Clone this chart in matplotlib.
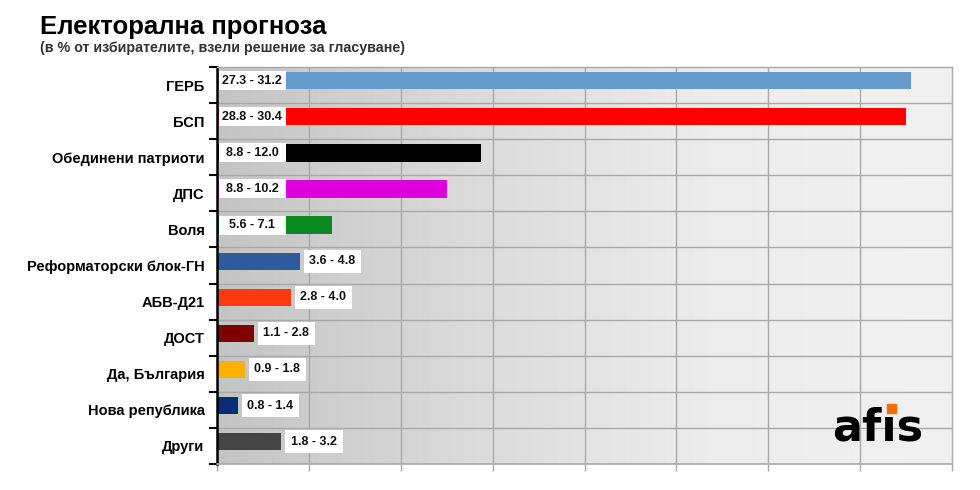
import matplotlib
matplotlib.use("Agg")
import matplotlib.pyplot as plt
import numpy as np
from matplotlib.patches import Rectangle
from matplotlib.colors import LinearSegmentedColormap

plt.rcParams['font.family'] = ['Liberation Sans', 'DejaVu Sans']

parties = ["ГЕРБ", "БСП", "Обединени патриоти", "ДПС", "Воля",
           "Реформаторски блок-ГН", "АБВ-Д21", "ДОСТ", "Да, България",
           "Нова република", "Други"]
bar_values = [30.2, 30.0, 11.5, 10.0, 5.0, 3.6, 3.2, 1.6, 1.2, 0.9, 2.8]
range_labels = ["27.3 - 31.2", "28.8 - 30.4", "8.8 - 12.0", "8.8 - 10.2",
                "5.6 - 7.1", "3.6 - 4.8", "2.8 - 4.0", "1.1 - 2.8",
                "0.9 - 1.8", "0.8 - 1.4", "1.8 - 3.2"]
label_inside = [True, True, True, True, True, False, False, False, False, False, False]
colors = ["#6699cc", "#ff0000", "#000000", "#dd00dd", "#0a8a1e", "#2e5aa0",
          "#ff3a10", "#800000", "#ffb000", "#0a2a7a", "#444444"]
x_max = 32
x_step = 4

fig = plt.figure(figsize=(9.8, 4.9), dpi=100)
ax = fig.add_axes([217/980, 1-464/490, (952-217)/980, (464-67)/490])

n = len(parties)
ax.set_xlim(0, x_max)
ax.set_ylim(n - 0.5, -0.5)
px_per_unit = (952 - 217) / x_max
px_per_cat = (464 - 67) / n

# gradient background
grad = np.linspace(0, 1, 256).reshape(1, -1)
cmap = LinearSegmentedColormap.from_list("bg", ["#c4c4c4", "#dadada", "#ececec", "#f1f1f1"])
ax.imshow(grad, extent=[0, x_max, n - 0.5, -0.5], aspect='auto', cmap=cmap, zorder=0)

# grid
for xv in np.arange(x_step, x_max, x_step):
    ax.axvline(xv, color="#a8a8a8", lw=1, zorder=1)
for yv in np.arange(0.5, n - 0.5, 1):
    ax.axhline(yv, color="#a8a8a8", lw=1, zorder=1)

ypos = np.arange(n) - 0.12
ax.barh(ypos, bar_values, height=0.48, color=colors, zorder=3)

box_w = 67 / px_per_unit
box_h = 19 / px_per_cat
for i in range(n):
    if label_inside[i]:
        x0 = 1.5 / px_per_unit
        ax.add_patch(Rectangle((x0, ypos[i] - box_h / 2), box_w, box_h,
                               fc="white", ec="none", zorder=4))
        ax.text(x0 + box_w / 2, ypos[i], range_labels[i], ha="center", va="center",
                fontsize=9, fontweight="bold", color="#111111", zorder=5)
    else:
        ax.annotate(range_labels[i], xy=(bar_values[i], ypos[i]), xytext=(7, 0),
                    textcoords="offset points", ha="left", va="center",
                    fontsize=9, fontweight="bold", color="#111111", zorder=5,
                    bbox=dict(boxstyle="square,pad=0.45", fc="white", ec="none"))

ax.set_yticks(np.arange(n))
ax.set_yticklabels(parties, fontsize=10.5, fontweight="bold")
ax.tick_params(axis="y", which="major", length=0, pad=9)
ax.set_yticks(np.arange(-0.5, n, 1), minor=True)
ax.tick_params(axis="y", which="minor", length=6, width=1.5, color="black", direction="out")

ax.set_xticks(np.arange(0, x_max + 0.01, x_step))
ax.set_xticklabels([])
ax.tick_params(axis="x", length=5, width=1, color="#a8a8a8", direction="out")

for s in ["top", "right"]:
    ax.spines[s].set_color("#a8a8a8")
    ax.spines[s].set_linewidth(1)
ax.spines["bottom"].set_color("#a8a8a8")
ax.spines["bottom"].set_linewidth(1.2)
ax.spines["left"].set_color("black")
ax.spines["left"].set_linewidth(1.8)
for s in ax.spines.values():
    s.set_zorder(6)

fig.text(40/980, 1-27/490, "Електорална прогноза", fontsize=18.5, fontweight="bold",
         color="black", ha="left", va="center")
fig.text(40/980, 1-48/490, "(в % от избирателите, взели решение за гласуване)",
         fontsize=10.3, fontweight="bold", color="#333333", ha="left", va="center")

# logo
fig.text(832/980, 1-428/490, "afıs", fontsize=32, fontweight="heavy",
         color="black", ha="left", va="center", family="DejaVu Sans")
fig.patches.append(Rectangle((887/980, 1-413/490), 9/980, 9/490,
                             transform=fig.transFigure, color="#ff6a00"))

fig.savefig("out.png", dpi=100)
